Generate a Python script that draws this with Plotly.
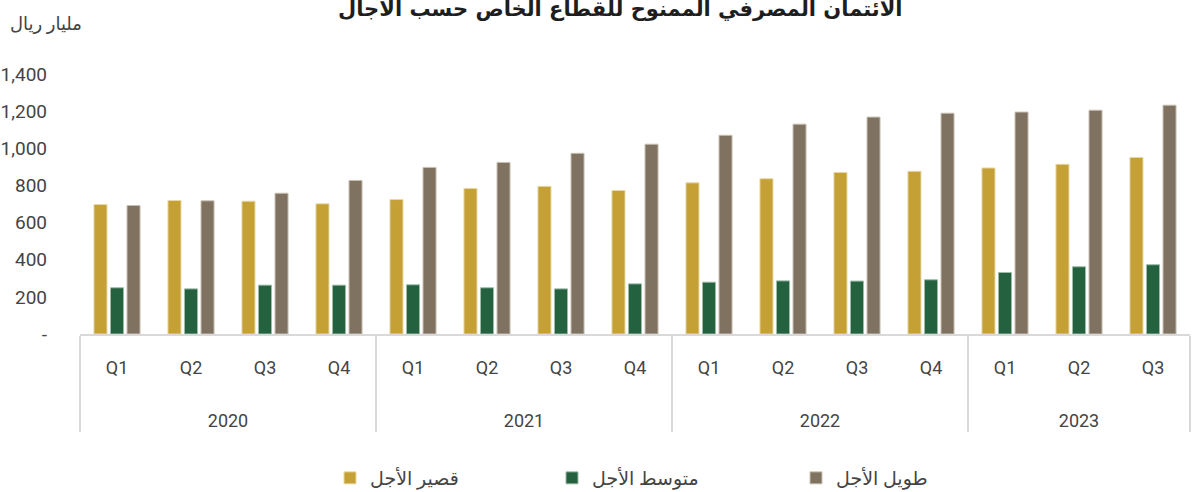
import plotly.graph_objects as go

years = ["2020"] * 4 + ["2021"] * 4 + ["2022"] * 4 + ["2023"] * 3
quarters = ["Q1", "Q2", "Q3", "Q4"] * 3 + ["Q1", "Q2", "Q3"]

short_term = [697, 719, 715, 701, 724, 784, 795, 773, 814, 836, 870, 876, 894, 914, 951]
medium_term = [249, 243, 263, 263, 265, 249, 243, 270, 279, 286, 285, 292, 331, 362, 373]
long_term = [692, 717, 758, 827, 897, 924, 973, 1022, 1070, 1130, 1168, 1189, 1195, 1205, 1232]

series_names = ["قصير الأجل", "متوسط الأجل", "طويل الأجل"]
colors = ["#C4A035", "#24613F", "#7F7261"]
line_colors = ["#E6D9A8", "#9DBBA8", "#C9C0B4"]

tick_vals = [0, 200, 400, 600, 800, 1000, 1200, 1400]
tick_text = ["-", "200", "400", "600", "800", "1,000", "1,200", "1,400"]

title_text = "الائتمان المصرفي الممنوح للقطاع الخاص حسب الآجال"
y_title = "مليار ريال"

# layout geometry (pixels)
W, H = 1192, 492
L, R, T, B = 80, 2, 74, 158
PW, PH = W - L - R, H - T - B


def px_x(x):
    return (x - L) / PW


def px_y(y):
    return (H - B - y) / PH


legend_names = ["legend", "legend2", "legend3"]
legend_left_px = [330, 552, 796]

# year labels pushed down (blank lines) to leave room as in reference
year_labels = ["<br><br>" + y for y in years]

fig = go.Figure()
for name, vals, c, lc, lg in zip(series_names, [short_term, medium_term, long_term],
                                 colors, line_colors, legend_names):
    fig.add_trace(go.Bar(
        x=[year_labels, quarters], y=vals, name=name, legend=lg,
        marker=dict(color=c, line=dict(color=lc, width=1)),
    ))

font_family = "Roboto, 'DejaVu Sans', sans-serif"
legend_common = dict(orientation="h", xanchor="left", yanchor="middle",
                     font=dict(size=19, color="#444444"), bgcolor="rgba(0,0,0,0)")
fig.update_layout(
    width=W, height=H,
    margin=dict(l=L, r=R, t=T, b=B, autoexpand=False),
    paper_bgcolor="white", plot_bgcolor="white",
    barmode="group", bargap=0.33, bargroupgap=0.21,
    font=dict(family=font_family, size=18, color="#444444"),
    showlegend=True,
    legend=dict(x=px_x(legend_left_px[0]), y=px_y(478), **legend_common),
    legend2=dict(x=px_x(legend_left_px[1]), y=px_y(478), **legend_common),
    legend3=dict(x=px_x(legend_left_px[2]), y=px_y(478), **legend_common),
    xaxis=dict(type="multicategory", showline=True, linecolor="#d9d9d9", linewidth=2,
               showdividers=True, dividercolor="#d9d9d9", dividerwidth=2,
               tickfont=dict(size=18, color="#444444"), showgrid=False,
               ticks="", ticklabelstandoff=16),
    yaxis=dict(range=[0, 1400], tickvals=tick_vals, ticktext=tick_text,
               showgrid=False, zeroline=False, showline=False,
               tickfont=dict(size=19, color="#444444"), ticklabelstandoff=32),
    annotations=[
        dict(text="<b>" + title_text + "</b>", xref="paper", yref="paper",
             x=px_x(620), xanchor="center", y=px_y(23), yanchor="bottom", showarrow=False,
             font=dict(size=21, color="#1e1e1e", family="'DejaVu Sans', sans-serif")),
        dict(text=y_title, xref="paper", yref="paper", x=px_x(8), xanchor="left",
             y=px_y(23), yanchor="middle", showarrow=False,
             font=dict(size=18, color="#444444")),
    ],
)

fig.write_html("out.html", config={"displayModeBar": False},
               post_script="document.body.style.margin='0px';document.body.style.overflow='hidden';")
